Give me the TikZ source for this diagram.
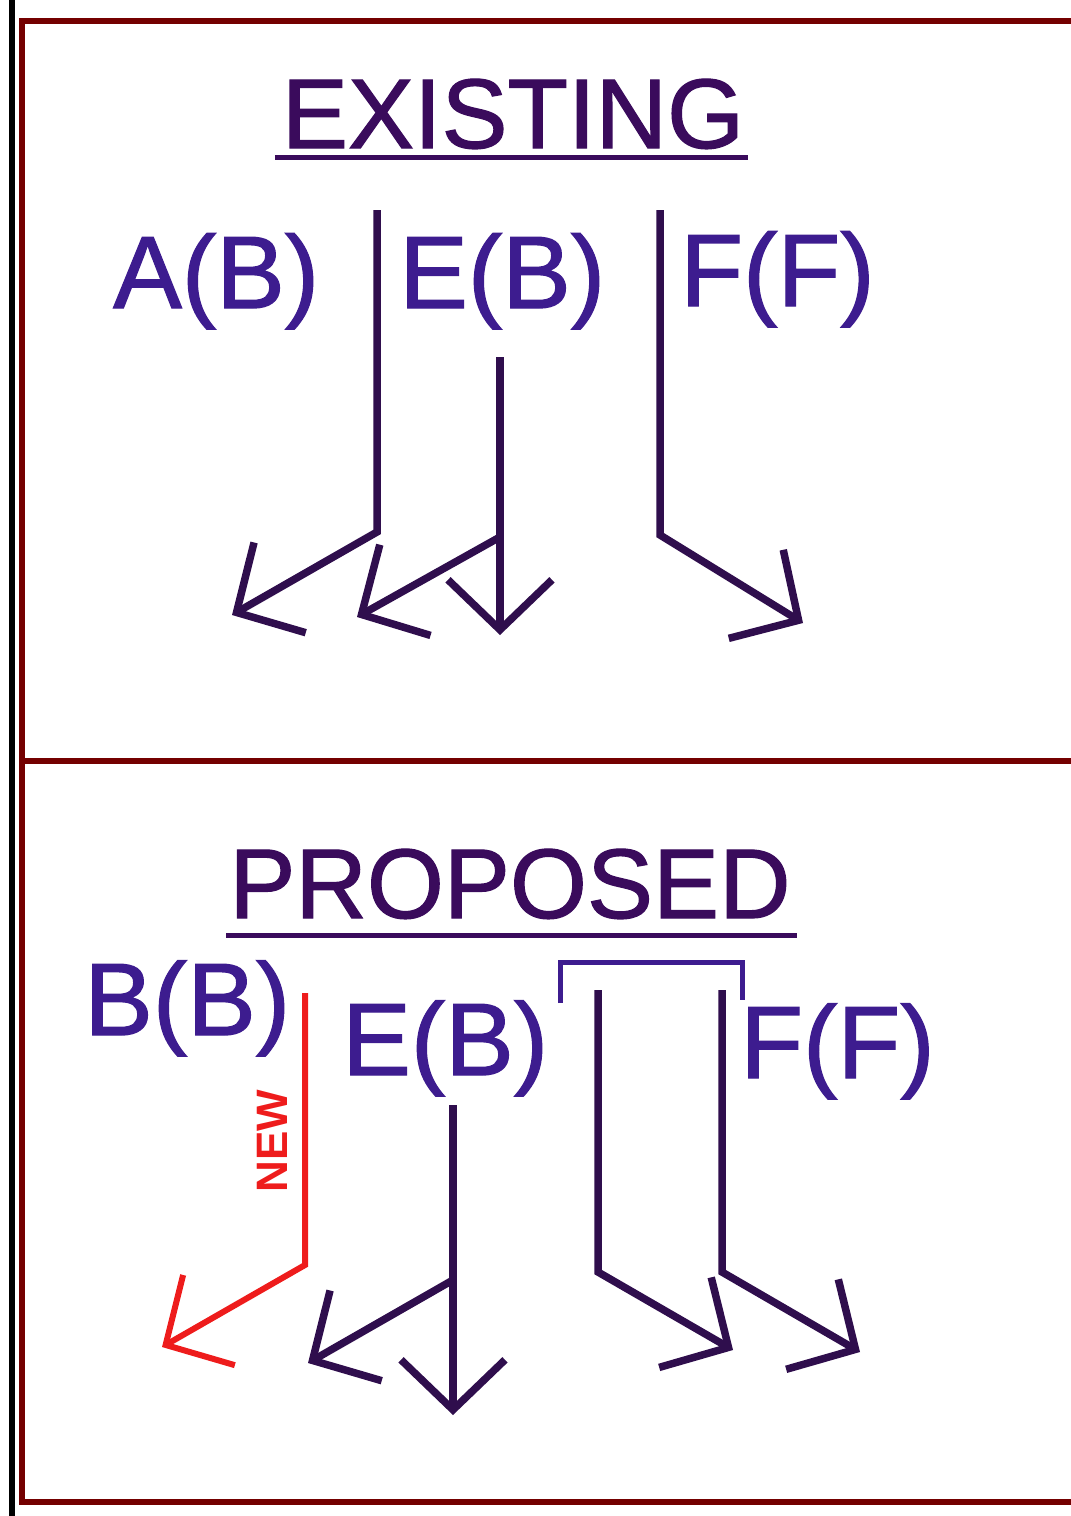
\documentclass[tikz,border=0pt]{standalone}
\usepackage{fontspec}
\setmainfont{Liberation Sans}
\newfontfamily\heavyfont[FakeBold=1.2]{Liberation Sans}
\usepackage{tikz}
\usetikzlibrary{arrows.meta}
\definecolor{frameRed}{HTML}{740000}
\definecolor{titlePurple}{HTML}{3A0B5C}
\definecolor{labelPurple}{HTML}{3D1C8F}
\definecolor{linePurple}{HTML}{2F0E4D}
\definecolor{newRed}{HTML}{EE1C1C}

\begin{document}
\begin{tikzpicture}[x=1pt,y=-1pt,
    frame/.style={frameRed,line width=6pt},
    move/.style={linePurple,line width=7.5pt,-{Straight Barb[length=50pt,width=104pt]}},
    newmove/.style={move,newRed,line width=6pt},
    title/.style={titlePurple,anchor=base,inner sep=0pt,font=\heavyfont\fontsize{99}{100}\selectfont},
    lbl/.style={labelPurple,anchor=base west,inner sep=0pt,font=\heavyfont\fontsize{103}{104}\selectfont}]
  \useasboundingbox (0,0) rectangle (1071,1516);

  % frame
  \draw[black,line width=6pt] (12,0)--(12,1516);
  \draw[frame] (1075,21)--(22,21)--(22,1502)--(1075,1502);
  \draw[frame] (22,761)--(1075,761);

  % existing
  \node[title] (ex) at (513,148) {EXISTING};
  \draw[titlePurple,line width=5pt] ([shift={(-7,9)}]ex.base west)--([shift={(4,9)}]ex.base east);
  \node[lbl] (ab) at (113,308) {A(B)};
  \node[lbl] (eb) at (399,308) {E(B)};
  \node[lbl] (ff) at (680,306) {F(F)};

  \coordinate (ab0) at (377,210); \coordinate (ab1) at (377,532); \coordinate (ab2) at (232,615);
  \coordinate (eb0) at (500,357); \coordinate (eb1) at (500,537);
  \coordinate (eb2) at (500,635); \coordinate (eb3) at (357,617);
  \coordinate (ff0) at (660,210); \coordinate (ff1) at (660,535); \coordinate (ff2) at (803,623);
  \draw[move] (ab0)--(ab1)--(ab2);
  \draw[move] (eb0)--(eb2);
  \draw[move] (eb1)--(eb3);
  \draw[move] (ff0)--(ff1)--(ff2);

  % proposed
  \node[title] (pr) at (510,918) {PROPOSED};
  \draw[titlePurple,line width=5pt] ([shift={(-3,17)}]pr.base west)--([shift={(6,17)}]pr.base east);
  \node[lbl] (bb) at (84,1035) {B(B)};
  \node[lbl] (eb') at (342,1075) {E(B)};
  \node[lbl] (ff') at (740,1078) {F(F)};
  \node[newRed,rotate=90,inner sep=0pt,font=\bfseries\fontsize{44}{44}\selectfont] (new) at (272,1141) {NEW};

  \coordinate (bb0) at (305,993); \coordinate (bb1) at (305,1265); \coordinate (bb2) at (162,1347);
  \coordinate (pe0) at (453,1105); \coordinate (pe1) at (453,1280);
  \coordinate (pe2) at (453,1415); \coordinate (pe3) at (308,1363);
  \coordinate (fa0) at (598,990); \coordinate (fa1) at (598,1272); \coordinate (fa2) at (733,1350);
  \coordinate (fb0) at (722,990); \coordinate (fb1) at (722,1272); \coordinate (fb2) at (860,1352);
  \draw[newmove] (bb0)--(bb1)--(bb2);
  \draw[move] (pe0)--(pe2);
  \draw[move] (pe1)--(pe3);
  \draw[move] (fa0)--(fa1)--(fa2);
  \draw[move] (fb0)--(fb1)--(fb2);
  \draw[labelPurple,line width=5pt] (560,1003) |- (742,962) -- (742,1000);
\end{tikzpicture}
\end{document}
